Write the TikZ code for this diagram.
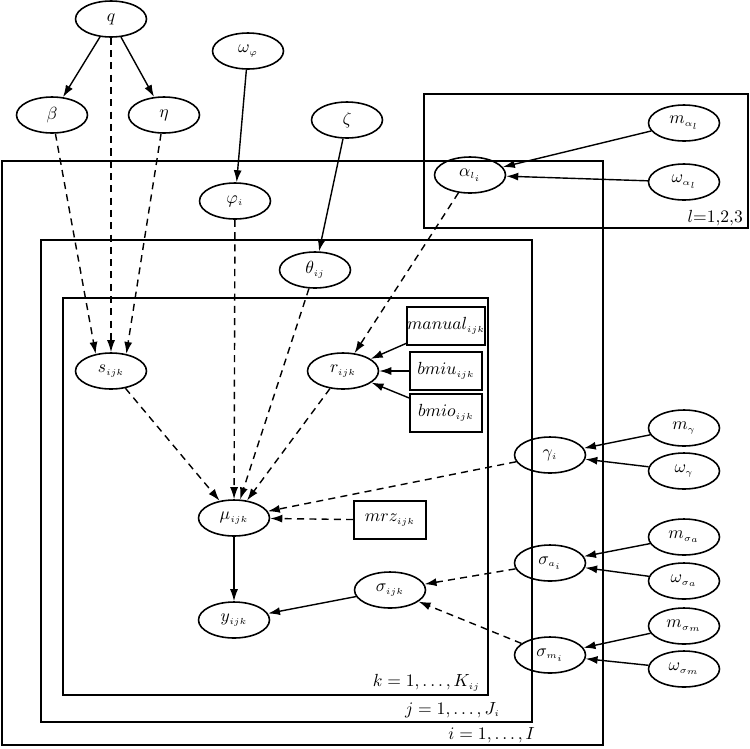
\documentclass[tikz,border=0pt]{standalone}
\usepackage{amsmath}
\usepackage{amssymb}
\usepackage{tikz}
\usetikzlibrary{shapes.geometric}
\usetikzlibrary{arrows.meta}
\newcommand{\ix}[1]{_{\scriptscriptstyle #1}}
\tikzstyle{var}=[draw, ellipse, line width=0.9pt, inner sep=0pt, minimum width=1.42cm, minimum height=0.72cm]
\tikzstyle{obs}=[draw, rectangle, line width=0.9pt, inner sep=0pt, minimum width=1.44cm, minimum height=0.76cm]
\tikzstyle{plate}=[draw, line width=1pt]
\tikzstyle{platelabel}=[inner sep=1pt, anchor=east]
\tikzstyle{dep}=[-{Latex[length=2.4mm,width=1.6mm]}, line width=0.8pt]
\tikzstyle{stoch}=[dep, dash pattern=on 4pt off 3pt]

\begin{document}
\begin{tikzpicture}[x=0.02cm, y=-0.02cm]
        \useasboundingbox (0, 0) rectangle (750, 748);
        % plates
        \draw[plate] (424, 94) rectangle (748, 228);
        \draw[plate] (2, 161) rectangle (603, 745);
        \draw[plate] (41, 240) rectangle (532, 722);
        \draw[plate] (63, 298) rectangle (488, 695);
        \node[platelabel] (lplate) at (745, 218) {$l{=}1{,}2{,}3$};
        \node[platelabel] (iplate) at (537, 735) {$i = 1, \ldots, I$};
        \node[platelabel] (jplate) at (502, 710) {$j = 1, \ldots, J\ix{i}$};
        \node[platelabel] (kplate) at (482, 683) {$k = 1, \ldots, K\ix{ij}$};
        % top level
        \node[var] (q)          at (111, 19)  {$q$};
        \node[var] (beta)       at (52, 115)  {$\beta$};
        \node[var] (eta)        at (164, 115) {$\eta$};
        \node[var] (omegaphi)   at (248, 51)  {$\omega\ix{\varphi}$};
        \node[var] (zeta)       at (347, 120) {$\zeta$};
        \node[var] (malpha)     at (684, 123) {$m\ix{\alpha_l}$};
        \node[var] (omegaalpha) at (684, 182) {$\omega\ix{\alpha_l}$};
        \node[var] (alpha)      at (470, 175) {$\alpha\ix{l_i}$};
        \node[var] (phi)        at (235, 201) {$\varphi\ix{i}$};
        \node[var] (theta)      at (315, 270) {$\theta\ix{ij}$};
        % inner plate
        \node[var] (s)          at (111, 371) {$s\ix{ijk}$};
        \node[var] (r)          at (343, 371) {$r\ix{ijk}$};
        \node[obs] (manual)     at (446, 326) {$manual\ix{ijk}$};
        \node[obs] (bmiu)       at (446, 371) {$bmiu\ix{ijk}$};
        \node[obs] (bmio)       at (446, 413) {$bmio\ix{ijk}$};
        \node[var] (mu)         at (234, 518) {$\mu\ix{ijk}$};
        \node[obs] (mrz)        at (390, 520) {$mrz\ix{ijk}$};
        \node[var] (y)          at (234, 620) {$y\ix{ijk}$};
        \node[var] (sigma)      at (390, 590) {$\sigma\ix{ijk}$};
        % right column
        \node[var] (gamma)       at (550, 455) {$\gamma\ix{i}$};
        \node[var] (mgamma)      at (684, 428) {$m\ix{\gamma}$};
        \node[var] (omegagamma)  at (684, 471) {$\omega\ix{\gamma}$};
        \node[var] (sigmaa)      at (550, 563) {$\sigma\ix{a_i}$};
        \node[var] (msigmaa)     at (684, 537) {$m\ix{\sigma_a}$};
        \node[var] (omegasigmaa) at (684, 581) {$\omega\ix{\sigma_a}$};
        \node[var] (sigmam)      at (550, 655) {$\sigma\ix{m_i}$};
        \node[var] (msigmam)     at (684, 626) {$m\ix{\sigma_m}$};
        \node[var] (omegasigmam) at (684, 669) {$\omega\ix{\sigma_m}$};
        % edges
        \draw[dep] (q) -- (beta);
        \draw[dep] (q) -- (eta);
        \draw[stoch] (q) -- (s);
        \draw[stoch] (beta) -- (s.132);
        \draw[stoch] (eta) -- (s.48);
        \draw[dep] (omegaphi) -- (phi);
        \draw[dep] (zeta) -- (theta);
        \draw[dep] (malpha) -- (alpha);
        \draw[dep] (omegaalpha) -- (alpha);
        \draw[stoch] (alpha) -- (r);
        \draw[dep] (manual) -- (r);
        \draw[dep] (bmiu) -- (r);
        \draw[dep] (bmio) -- (r);
        \draw[stoch] (s) -- (mu);
        \draw[stoch] (phi) -- (mu);
        \draw[stoch] (theta) -- (mu);
        \draw[stoch] (r) -- (mu);
        \draw[stoch] (gamma) -- (mu);
        \draw[stoch] (mrz) -- (mu);
        \draw[dep] (mu) -- (y);
        \draw[dep] (sigma) -- (y);
        \draw[stoch] (sigmaa) -- (sigma);
        \draw[stoch] (sigmam) -- (sigma);
        \draw[dep] (mgamma) -- (gamma);
        \draw[dep] (omegagamma) -- (gamma);
        \draw[dep] (msigmaa) -- (sigmaa);
        \draw[dep] (omegasigmaa) -- (sigmaa);
        \draw[dep] (msigmam) -- (sigmam);
        \draw[dep] (omegasigmam) -- (sigmam);
    \end{tikzpicture}
\end{document}
